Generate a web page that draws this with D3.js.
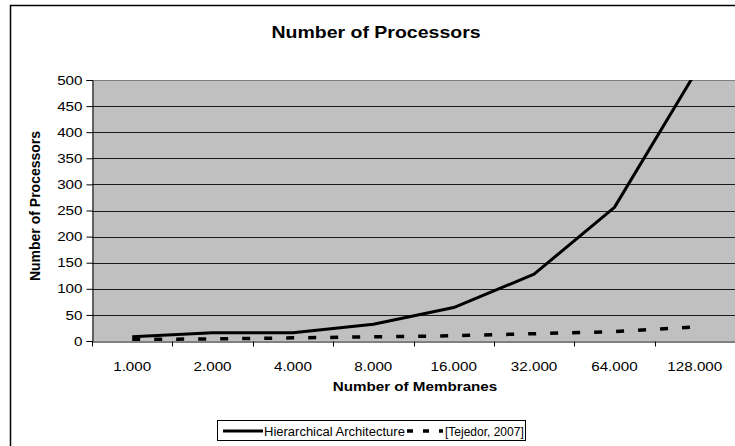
<!DOCTYPE html>
<html>
<head>
<meta charset="utf-8">
<script src="https://cdn.jsdelivr.net/npm/d3@7/dist/d3.min.js"></script>
<style>
html,body{margin:0;padding:0;background:#fff;}
svg{display:block;font-family:"Liberation Sans",Arial,sans-serif;}
</style>
</head>
<body>
<svg id="chart" width="735" height="446"></svg>
<script>
const categories = ["1.000","2.000","4.000","8.000","16.000","32.000","64.000","128.000"];
const hierarchical = [8,16,16,32,64,128,256,512];
const tejedor = [3,4,6,8,10,14,18,27];
const yTicks = [0,50,100,150,200,250,300,350,400,450,500];
const seriesNames = ["Hierarchical Architecture","[Tejedor, 2007]"];
const titleText = "Number of Processors";
const xTitle = "Number of Membranes";
const yTitle = "Number of Processors";

const svg = d3.select("#chart");
const L = 92, R = 735, T = 80, B = 341;
const SX = 1.17; // horizontal stretch of the reference text

// outer chart border (extends beyond view)
svg.append("rect").attr("x",10.5).attr("y",5.5).attr("width",740).attr("height",460)
  .attr("fill","#fff").attr("stroke","#000").attr("stroke-width",1.5);

const x = d3.scaleBand().domain(categories).range([L,R]).padding(0);
const y = d3.scaleLinear().domain([0,500]).range([B,T]);

// plot background
svg.append("rect").attr("x",L).attr("y",T).attr("width",R-L).attr("height",B-T).attr("fill","#c0c0c0");

// gridlines
svg.append("g").selectAll("line").data(yTicks.filter(d=>d>0)).join("line")
  .attr("x1",L).attr("x2",R).attr("y1",d=>Math.round(y(d))+0.5).attr("y2",d=>Math.round(y(d))+0.5)
  .attr("stroke",d=>d===500?"#808080":"#1a1a1a").attr("stroke-width",1);

// clip
svg.append("clipPath").attr("id","clip").append("rect")
  .attr("x",L).attr("y",T).attr("width",R-L).attr("height",B-T);

const cx = d => x(d)+x.bandwidth()/2;
const line = d3.line().x((d,i)=>cx(categories[i])).y(d=>y(d));

const plot = svg.append("g").attr("clip-path","url(#clip)");
plot.append("path").datum(tejedor).attr("d",line).attr("fill","none")
  .attr("stroke","#000").attr("stroke-width",3.5).attr("stroke-dasharray","8,14");
plot.append("path").datum(hierarchical).attr("d",line).attr("fill","none")
  .attr("stroke","#000").attr("stroke-width",3).attr("stroke-linejoin","round");

// y axis
const yAxis = d3.axisLeft(y).tickValues(yTicks).tickSize(6).tickPadding(4).tickFormat(d3.format("d"));
const gy = svg.append("g").attr("transform",`translate(${L+0.5},0)`).call(yAxis);
gy.select(".domain").attr("stroke","#000");
gy.selectAll(".tick line").attr("stroke","#000");
gy.selectAll(".tick text").attr("font-size",13).attr("fill","#000")
  .attr("x",-10/SX).attr("transform",`scale(${SX},1)`)
  .style("font-family","Liberation Sans, Arial, sans-serif");

// x axis
const xAxis = d3.axisBottom(x).tickSize(0).tickPadding(20);
const gx = svg.append("g").attr("transform",`translate(0,${B+0.5})`).call(xAxis);
gx.select(".domain").attr("stroke","#000").attr("stroke-width",1);
gx.selectAll(".tick text").attr("font-size",13).attr("fill","#000")
  .attr("transform",`scale(${SX},1)`)
  .style("font-family","Liberation Sans, Arial, sans-serif");
// category boundary ticks
const bounds = categories.map(c=>x(c)).concat([R]);
gx.append("g").selectAll("line").data(bounds).join("line")
  .attr("x1",d=>Math.round(d)+0.5).attr("x2",d=>Math.round(d)+0.5).attr("y1",0).attr("y2",5).attr("stroke","#000");

// titles
svg.append("text").attr("transform",`translate(376,38) scale(1.22,1)`).attr("text-anchor","middle")
  .attr("font-size",16).attr("font-weight","bold").text(titleText);
svg.append("text").attr("transform",`translate(415,391) scale(${SX},1)`).attr("text-anchor","middle")
  .attr("font-size",13).attr("font-weight","bold").text(xTitle);
svg.append("text").attr("transform","translate(40,206) rotate(-90)").attr("text-anchor","middle")
  .attr("font-size",14).attr("font-weight","bold").text(yTitle);

// legend
const lg = svg.append("g");
lg.append("rect").attr("x",217.5).attr("y",420.5).attr("width",308).attr("height",20)
  .attr("fill","#fff").attr("stroke","#000").attr("stroke-width",1);
lg.append("line").attr("x1",223).attr("x2",263).attr("y1",431).attr("y2",431)
  .attr("stroke","#000").attr("stroke-width",3);
lg.append("text").attr("transform","translate(264,435.5) scale(1.04,1)").attr("font-size",12.5).text(seriesNames[0]);
lg.append("line").attr("x1",407).attr("x2",443).attr("y1",431).attr("y2",431)
  .attr("stroke","#000").attr("stroke-width",3.5).attr("stroke-dasharray","6,10");
lg.append("text").attr("transform","translate(445,435.5)").attr("font-size",12).text(seriesNames[1]);
</script>
</body>
</html>
